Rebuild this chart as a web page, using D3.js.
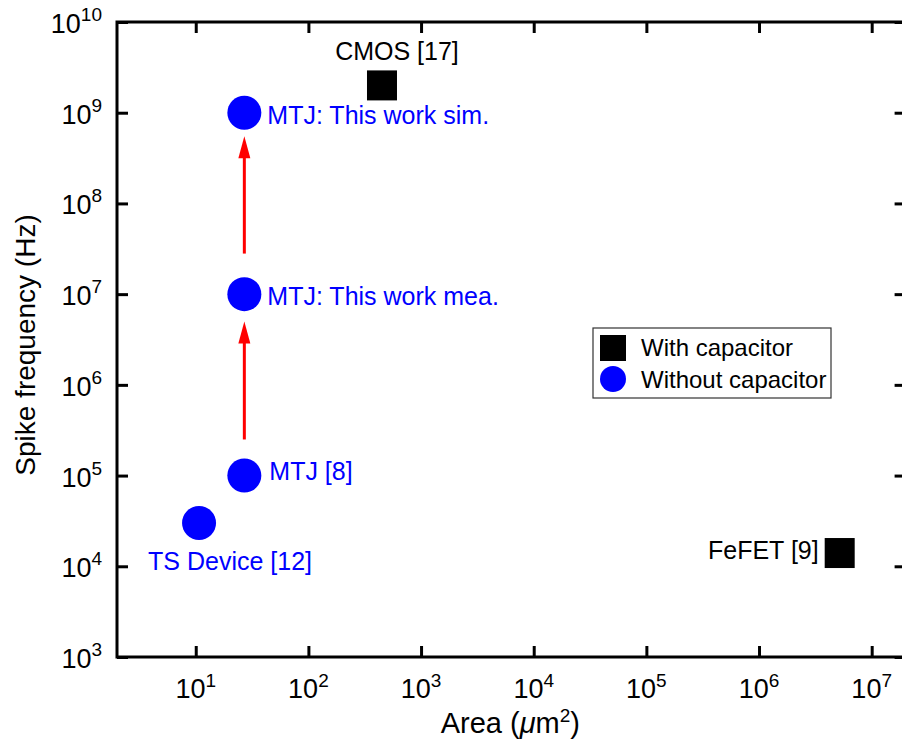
<!DOCTYPE html>
<html>
<head>
<meta charset="utf-8">
<script src="https://cdn.jsdelivr.net/npm/d3@7/dist/d3.min.js"></script>
<style>
  html, body { margin: 0; padding: 0; background: #fff; }
  svg { display: block; font-family: "Liberation Sans", Arial, sans-serif; }
</style>
</head>
<body>
<div id="chart"></div>
<script>
// data
const names = ['CMOS [17]', 'MTJ: This work sim.', 'MTJ: This work mea.', 'MTJ [8]', 'TS Device [12]', 'FeFET [9]'];
const areas = [450, 27, 27, 27, 10.7, 5.2e6];          // um^2
const freqs = [2e9, 1e9, 1e7, 1e5, 3e4, 1.4e4];        // Hz
const withCap = [true, false, false, false, false, true];

// improvement arrows (area, from freq, to freq)
const arrowArea = [27, 27];
const arrowFrom = [2.8e7, 2.5e5];
const arrowTo = [5.5e8, 5e6];

const xTickExp = [1, 2, 3, 4, 5, 6, 7];
const yTickExp = [3, 4, 5, 6, 7, 8, 9, 10];
const legendLabels = ['With capacitor', 'Without capacitor'];

// label placement (pixels, relative to the marker)
const labelPos = {
  'CMOS [17]': { dx: 15, dy: -25, anchor: 'middle' },
  'MTJ: This work sim.': { dx: 23, dy: 11, anchor: 'start' },
  'MTJ: This work mea.': { dx: 23, dy: 11, anchor: 'start' },
  'MTJ [8]': { dx: 25, dy: 4, anchor: 'start' },
  'TS Device [12]': { dx: 31, dy: 47, anchor: 'middle' },
  'FeFET [9]': { dx: -21, dy: 6, anchor: 'end' }
};

const W = 902, H = 740;
const mLeft = 117, mRight = 905.6, mTop = 22, mBottom = 657;
const blue = '#0000ff', red = '#ff0000';

const svg = d3.select('#chart').append('svg')
  .attr('width', W)
  .attr('height', H);

const x = d3.scaleLog().domain([2, 2e7]).range([mLeft, mRight]);
const y = d3.scaleLog().domain([1e3, 1e10]).range([mBottom, mTop]);

// ticks, all pointing inwards on four sides
const tickLen = 11;
const xVals = xTickExp.map(e => Math.pow(10, e));
const yVals = yTickExp.map(e => Math.pow(10, e));
const axes = [
  [d3.axisBottom(x).tickValues(xVals), `translate(0,${mBottom})`],
  [d3.axisTop(x).tickValues(xVals), `translate(0,${mTop})`],
  [d3.axisLeft(y).tickValues(yVals), `translate(${mLeft},0)`],
  [d3.axisRight(y).tickValues(yVals), `translate(${mRight},0)`]
];
axes.forEach(([ax, tr]) => {
  const g = svg.append('g').attr('transform', tr)
    .call(ax.tickSize(-tickLen).tickFormat(''));
  g.select('.domain').remove();
  g.selectAll('.tick line').attr('stroke', '#000').attr('stroke-width', 3);
});

// frame
svg.append('rect')
  .attr('x', mLeft).attr('y', mTop)
  .attr('width', mRight - mLeft).attr('height', mBottom - mTop)
  .attr('fill', 'none').attr('stroke', '#000').attr('stroke-width', 3);

// tick labels 10^n
const xl = svg.append('g').selectAll('text').data(xTickExp).enter().append('text')
  .attr('x', d => x(Math.pow(10, d)))
  .attr('y', mBottom + 41)
  .attr('text-anchor', 'middle')
  .attr('font-size', 27)
  .attr('fill', '#000');
xl.append('tspan').text('10');
xl.append('tspan').attr('font-size', 19).attr('dy', -11).text(d => d);

const yl = svg.append('g').selectAll('text').data(yTickExp).enter().append('text')
  .attr('x', mLeft - 15)
  .attr('y', d => y(Math.pow(10, d)) + 11)
  .attr('text-anchor', 'end')
  .attr('font-size', 27)
  .attr('fill', '#000');
yl.append('tspan').text('10');
yl.append('tspan').attr('font-size', 19).attr('dy', -12).text(d => d);

// axis titles
const xt = svg.append('text')
  .attr('x', (mLeft + mRight) / 2 - 1)
  .attr('y', 733)
  .attr('text-anchor', 'middle')
  .attr('font-size', 29);
xt.append('tspan').text('Area (');
xt.append('tspan').attr('font-style', 'italic').text('\u03bc');
xt.append('tspan').text('m');
xt.append('tspan').attr('font-size', 19).attr('dy', -11).text('2');
xt.append('tspan').attr('dy', 11).text(')');

svg.append('text')
  .attr('transform', 'translate(35,345) rotate(-90)')
  .attr('text-anchor', 'middle')
  .attr('font-size', 28)
  .text('Spike frequency (Hz)');

// arrows: shaft + triangular head
const headLen = 22, headHalf = 6;
const arrows = arrowArea.map((a, i) => ({ a, from: arrowFrom[i], to: arrowTo[i] }));
const ag = svg.append('g');
ag.selectAll('line').data(arrows).enter().append('line')
  .attr('x1', d => x(d.a)).attr('x2', d => x(d.a))
  .attr('y1', d => y(d.from))
  .attr('y2', d => y(d.to) + headLen - 2)
  .attr('stroke', red).attr('stroke-width', 3);
ag.selectAll('path').data(arrows).enter().append('path')
  .attr('d', d => {
    const cx = x(d.a), ty = y(d.to);
    return `M${cx},${ty} L${cx + headHalf},${ty + headLen} L${cx - headHalf},${ty + headLen} Z`;
  })
  .attr('fill', red);

// markers
const pts = names.map((n, i) => ({ name: n, area: areas[i], freq: freqs[i], cap: withCap[i] }));
const sq = 30, r = 17;
svg.append('g').selectAll('rect').data(pts.filter(d => d.cap)).enter().append('rect')
  .attr('x', d => x(d.area) - sq / 2)
  .attr('y', d => y(d.freq) - sq / 2)
  .attr('width', sq).attr('height', sq)
  .attr('fill', '#000');
svg.append('g').selectAll('circle').data(pts.filter(d => !d.cap)).enter().append('circle')
  .attr('cx', d => x(d.area))
  .attr('cy', d => y(d.freq))
  .attr('r', r)
  .attr('fill', blue);

// point labels
svg.append('g').selectAll('text').data(pts).enter().append('text')
  .attr('x', d => x(d.area) + labelPos[d.name].dx)
  .attr('y', d => y(d.freq) + labelPos[d.name].dy)
  .attr('text-anchor', d => labelPos[d.name].anchor)
  .attr('font-size', 25)
  .attr('fill', d => d.cap ? '#000' : blue)
  .text(d => d.name);

// legend
const lg = svg.append('g').attr('transform', 'translate(593,328)');
lg.append('rect')
  .attr('width', 238).attr('height', 70)
  .attr('fill', '#fff').attr('stroke', '#333').attr('stroke-width', 1.2);
lg.append('rect').attr('x', 7).attr('y', 7).attr('width', 26).attr('height', 26).attr('fill', '#000');
lg.append('circle').attr('cx', 20).attr('cy', 51).attr('r', 13).attr('fill', blue);
lg.selectAll('text.lab').data(legendLabels).enter().append('text')
  .attr('class', 'lab')
  .attr('x', 48)
  .attr('y', (d, i) => 28 + i * 32)
  .attr('font-size', 24)
  .attr('fill', '#000')
  .text(d => d);
</script>
</body>
</html>
